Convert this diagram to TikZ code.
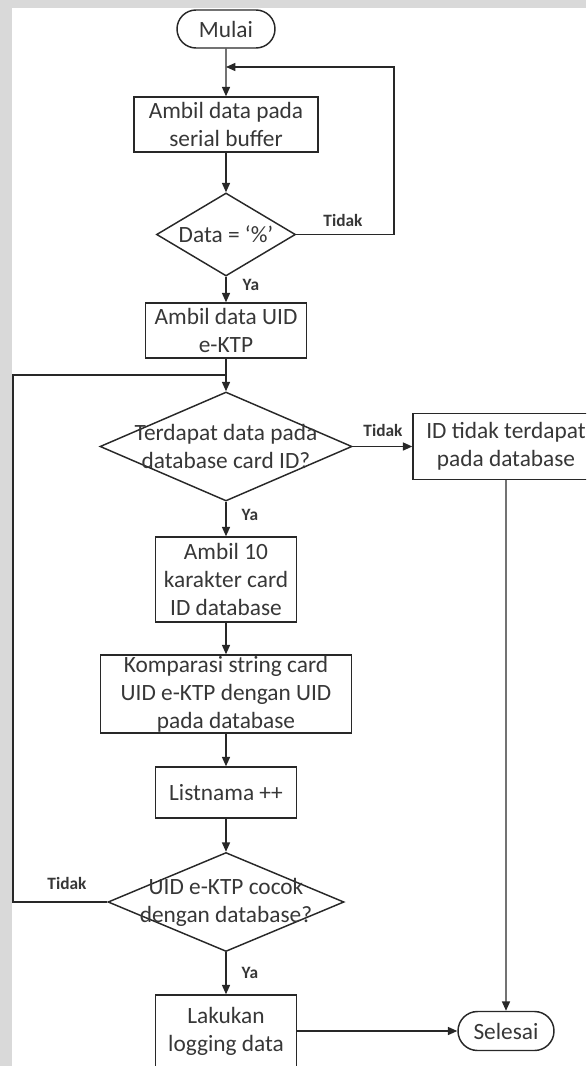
\documentclass[tikz,border=0pt]{standalone}
\usepackage{fontspec}
\setmainfont{Carlito}
\usetikzlibrary{shapes.geometric,shapes.misc,arrows.meta}

\definecolor{lnclr}{RGB}{40,40,40}
\definecolor{txclr}{RGB}{55,55,55}
\definecolor{edgegray}{RGB}{217,217,217}

\tikzset{every picture/.style={line width=1.1pt}}
\tikzset{
  fctext/.style={font=\fontsize{17.5}{21}\selectfont, text=txclr, align=center},
  terminal/.style={rounded rectangle, draw=lnclr, fctext, inner sep=0pt},
  process/.style={rectangle, draw=lnclr, fctext, inner sep=0pt},
  decision/.style={diamond, draw=lnclr, inner sep=0pt},
  flowarr/.style={draw=lnclr, -{Triangle[length=7pt,width=6pt]}},
  flowline/.style={draw=lnclr},
  branchtext/.style={font=\fontsize{13}{15}\selectfont\bfseries, text=txclr, inner sep=0.75pt},
}

\begin{document}
\begin{tikzpicture}[x=0.75pt,y=0.75pt,yscale=-1,xscale=1]
\useasboundingbox (0,0) rectangle (586,1066);
\clip (0,0) rectangle (586,1066);
% page edge
\fill[edgegray] (0,0) rectangle (586,8);
\fill[edgegray] (0,0) rectangle (12,1066);

%Terminal: start
\node[terminal, minimum width=73.5pt, minimum height=28.5pt] (mulai) at (226,29) {Mulai};
%Process
\node[process, minimum width=138pt, minimum height=41.25pt] (ambilserial) at (226,124.5) {Ambil data pada\\serial buffer};
%Decision
\node[decision, minimum width=104.25pt, minimum height=62.25pt,
  label={[fctext]center:{Data = ‘\%’}}] (cekdata) at (226,234.5) {};
%Process
\node[process, minimum width=120.75pt, minimum height=41.25pt] (ambiluid) at (226,330.5) {Ambil data UID\\e-KTP};
%Decision
\node[decision, minimum width=189pt, minimum height=81.75pt,
  label={[fctext]center:{Terdapat data pada\\database card ID?}}] (cekdb) at (226,446.5) {};
%Process
\node[process, minimum width=139.5pt, minimum height=49.5pt] (tidakada) at (506,446.5) {ID tidak terdapat\\pada database};
%Process
\node[process, minimum width=105.75pt, minimum height=63.75pt] (ambilkar) at (226,579.5) {Ambil 10\\karakter card\\ID database};
%Process
\node[process, minimum width=188.25pt, minimum height=58.5pt] (komparasi) at (226,694) {Komparasi string card\\UID e-KTP dengan UID\\pada database};
%Process
\node[process, minimum width=105.75pt, minimum height=38.25pt] (listnama) at (226,792.5) {Listnama ++};
%Decision
\node[decision, minimum width=177pt, minimum height=74.25pt,
  label={[fctext]center:{UID e-KTP cocok\\dengan database?}}] (cekuid) at (226,902) {};
%Process
\node[process, minimum width=105.75pt, minimum height=54pt] (logging) at (226,1031) {Lakukan\\logging data};
%Terminal: end
\node[terminal, minimum width=72pt, minimum height=29.25pt] (selesai) at (506,1031) {Selesai};

% loop points
\coordinate (join1) at (226,67);
\coordinate (right1) at (394,67);
\coordinate (join2) at (226,375);
\coordinate (left2) at (13,375);

%Connectors
\draw[flowarr] (mulai) -- (ambilserial);
\draw[flowarr] (ambilserial) -- (cekdata);
\draw[flowarr] (cekdata.east) -| (right1) -- (join1);
\draw[flowarr] (cekdata) -- (ambiluid);
\draw[flowarr] (ambiluid) -- (cekdb);
\draw[flowarr] (cekdb) -- (tidakada);
\draw[flowarr] (cekdb) -- (ambilkar);
\draw[flowarr] (ambilkar) -- (komparasi);
\draw[flowarr] (komparasi) -- (listnama);
\draw[flowarr] (listnama) -- (cekuid);
\draw[flowline] (cekuid.west) -| (left2) -- (join2);
\draw[flowarr] (cekuid) -- (logging);
\draw[flowarr] (logging) -- (selesai);
\draw[flowarr] (tidakada) -- (selesai);

% Text Node
\node[branchtext] (tidak1) at (343,220) {Tidak};
% Text Node
\node[branchtext, anchor=west] (ya1) at (241,285) {Ya};
% Text Node
\node[branchtext] (tidak2) at (383,430) {Tidak};
% Text Node
\node[branchtext, anchor=west] (ya2) at (240,515) {Ya};
% Text Node
\node[branchtext] (tidak3) at (67,883) {Tidak};
% Text Node
\node[branchtext, anchor=west] (ya3) at (240,973) {Ya};

\end{tikzpicture}
\end{document}
